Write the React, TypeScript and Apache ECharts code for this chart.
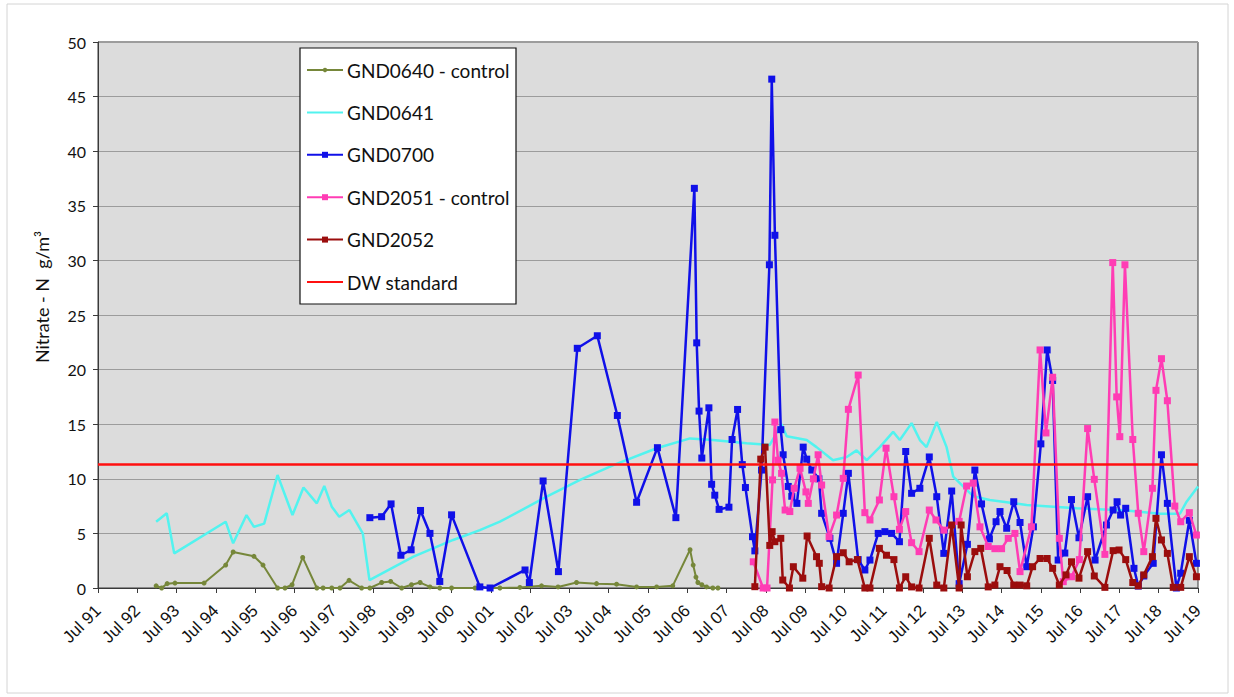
import React, { useEffect, useRef } from "react";
import * as echarts from "echarts";

const X_TICK_LABELS = [
  "Jul 91", "Jul 92", "Jul 93", "Jul 94", "Jul 95", "Jul 96", "Jul 97", "Jul 98", "Jul 99", "Jul 00",
  "Jul 01", "Jul 02", "Jul 03", "Jul 04", "Jul 05", "Jul 06", "Jul 07", "Jul 08", "Jul 09", "Jul 10",
  "Jul 11", "Jul 12", "Jul 13", "Jul 14", "Jul 15", "Jul 16", "Jul 17", "Jul 18", "Jul 19",
];
const X_START_YEAR = 1991.5; // Jul 91
const DW_STANDARD = 11.3;
const Y_AXIS_TITLE = "Nitrate - N  g/m³";

const GND0640 = [
  [1992.98, 0.2], [1993.12, 0], [1993.26, 0.4], [1993.46, 0.45], [1994.2, 0.45], [1994.75, 2.1],
  [1994.94, 3.3], [1995.47, 2.9], [1995.7, 2.1], [1996.07, 0], [1996.26, 0], [1996.44, 0.3],
  [1996.71, 2.8], [1997.07, 0], [1997.23, 0], [1997.45, 0], [1997.66, 0], [1997.89, 0.7],
  [1998.21, 0], [1998.42, 0], [1998.72, 0.5], [1998.95, 0.6], [1999.23, 0], [1999.48, 0.3],
  [1999.7, 0.5], [1999.95, 0.1], [2000.2, 0], [2000.5, 0], [2001.1, 0], [2001.73, 0],
  [2002.24, 0.05], [2002.79, 0.2], [2003.21, 0.1], [2003.68, 0.5], [2004.19, 0.4], [2004.7, 0.35],
  [2005.21, 0.1], [2005.72, 0.1], [2006.13, 0.2], [2006.57, 3.5], [2006.65, 2.1], [2006.72, 1.0],
  [2006.77, 0.5], [2006.87, 0.3], [2006.99, 0.1], [2007.15, 0], [2007.28, 0],
];

const GND0641 = [
  [1992.98, 6.07], [1993.25, 6.84], [1993.44, 3.17], [1994.75, 6.07], [1994.94, 4.09], [1995.28, 6.68],
  [1995.47, 5.6], [1995.73, 5.9], [1996.07, 10.35], [1996.45, 6.68], [1996.73, 9.2], [1997.07, 7.75],
  [1997.26, 9.34], [1997.45, 7.45], [1997.64, 6.53], [1997.9, 7.14], [1998.24, 5.0], [1998.41, 0.73],
  [1999.53, 2.87], [2000.54, 4.4], [2001.22, 5.3], [2001.73, 6.07], [2002.92, 8.36], [2003.77, 9.9],
  [2004.62, 11.26], [2005.72, 12.8], [2006.57, 13.7], [2007.15, 13.55], [2008.01, 13.25], [2008.6, 13.1],
  [2008.9, 15.0], [2009.03, 13.9], [2009.54, 13.55], [2009.79, 12.9], [2010.21, 11.7], [2010.56, 12.0],
  [2010.81, 12.6], [2011.07, 11.7], [2011.4, 12.9], [2011.74, 14.3], [2011.91, 13.55], [2012.21, 15.1],
  [2012.42, 13.55], [2012.59, 12.9], [2012.85, 15.2], [2013.1, 12.9], [2013.27, 10.2], [2013.78, 8.4],
  [2014.2, 8.06], [2015.14, 7.6], [2016.41, 7.3], [2017.68, 7.1], [2018.53, 6.8], [2019.04, 6.8],
  [2019.21, 7.9], [2019.5, 9.3],
];

const GND0700 = [
  [1998.42, 6.44], [1998.72, 6.53], [1998.96, 7.7], [1999.21, 3.0], [1999.47, 3.5], [1999.71, 7.1],
  [1999.95, 5.0], [2000.2, 0.6], [2000.5, 6.7], [2001.22, 0.1], [2001.48, 0], [2002.37, 1.65],
  [2002.48, 0.5], [2002.83, 9.8], [2003.22, 1.5], [2003.7, 21.95], [2004.21, 23.1], [2004.72, 15.8],
  [2005.21, 7.85], [2005.74, 12.85], [2006.21, 6.44], [2006.68, 36.6], [2006.74, 22.45], [2006.8, 16.2],
  [2006.87, 11.9], [2007.05, 16.5], [2007.12, 9.5], [2007.2, 8.5], [2007.31, 7.2], [2007.56, 7.4],
  [2007.64, 13.6], [2007.78, 16.35], [2007.9, 11.3], [2007.98, 9.2], [2008.16, 4.7], [2008.22, 3.4],
  [2008.39, 10.8], [2008.59, 29.6], [2008.65, 46.6], [2008.73, 32.3], [2008.88, 14.5], [2008.94, 12.2],
  [2009.07, 9.3], [2009.16, 8.4], [2009.29, 7.75], [2009.45, 12.9], [2009.54, 11.8], [2009.67, 10.8],
  [2009.85, 10.0], [2009.92, 6.84], [2010.13, 4.55], [2010.3, 2.26], [2010.47, 6.84], [2010.6, 10.5],
  [2010.85, 2.6], [2011.02, 1.65], [2011.15, 2.56], [2011.36, 5.0], [2011.53, 5.16], [2011.7, 5.0],
  [2011.9, 4.24], [2012.06, 12.5], [2012.21, 8.67], [2012.42, 9.13], [2012.66, 12.0], [2012.85, 8.36],
  [2013.03, 3.17], [2013.23, 8.88], [2013.42, 0.4], [2013.63, 4.0], [2013.82, 10.8], [2013.99, 7.7],
  [2014.19, 4.5], [2014.36, 6.07], [2014.46, 7.0], [2014.63, 5.47], [2014.81, 7.9], [2014.97, 6.0],
  [2015.14, 1.95], [2015.31, 5.6], [2015.5, 13.2], [2015.66, 21.8], [2015.8, 19.0], [2015.94, 2.56],
  [2016.11, 3.2], [2016.28, 8.1], [2016.47, 4.6], [2016.69, 8.36], [2016.88, 2.56], [2017.17, 5.77],
  [2017.34, 7.14], [2017.44, 7.9], [2017.53, 6.68], [2017.66, 7.3], [2017.87, 1.8], [2017.98, 0.18],
  [2018.12, 1.1], [2018.36, 2.26], [2018.57, 12.2], [2018.72, 7.75], [2018.95, 0], [2019.06, 1.35],
  [2019.28, 6.2], [2019.46, 2.26],
];

const GND2051 = [
  [2008.18, 2.4], [2008.43, 0], [2008.53, 0], [2008.67, 9.9], [2008.73, 15.2], [2008.81, 11.7],
  [2008.9, 10.5], [2008.99, 7.14], [2009.11, 7.0], [2009.22, 9.13], [2009.37, 10.96], [2009.52, 8.8],
  [2009.58, 7.75], [2009.71, 10.0], [2009.83, 12.2], [2009.92, 9.43], [2010.11, 4.7], [2010.3, 6.68],
  [2010.47, 10.04], [2010.6, 16.36], [2010.85, 19.5], [2011.02, 6.9], [2011.15, 6.23], [2011.39, 8.06],
  [2011.56, 12.8], [2011.76, 8.36], [2011.9, 5.37], [2012.06, 7.0], [2012.21, 4.15], [2012.4, 3.33],
  [2012.66, 7.14], [2012.83, 6.23], [2013.03, 5.3], [2013.42, 6.1], [2013.61, 9.34], [2013.78, 9.6],
  [2013.95, 5.6], [2014.16, 3.8], [2014.33, 3.6], [2014.5, 3.6], [2014.67, 4.55], [2014.84, 5.0],
  [2014.97, 1.5], [2015.26, 5.6], [2015.48, 21.8], [2015.63, 14.2], [2015.8, 19.3], [2015.97, 4.55],
  [2016.07, 0.58], [2016.28, 1.03], [2016.48, 2.6], [2016.69, 14.6], [2016.86, 9.95], [2017.13, 3.08],
  [2017.33, 29.8], [2017.43, 17.5], [2017.51, 13.86], [2017.64, 29.6], [2017.84, 13.6], [2017.98, 6.84],
  [2018.12, 3.33], [2018.34, 9.13], [2018.43, 18.1], [2018.57, 21.0], [2018.72, 17.15], [2018.91, 7.5],
  [2019.06, 6.07], [2019.28, 6.9], [2019.46, 4.85],
];

const GND2052 = [
  [2008.22, 0.12], [2008.37, 11.8], [2008.48, 12.9], [2008.6, 3.9], [2008.66, 5.16], [2008.73, 4.24],
  [2008.88, 4.55], [2008.93, 0.73], [2009.1, 0], [2009.2, 1.95], [2009.44, 0.9], [2009.55, 4.76],
  [2009.79, 2.87], [2009.86, 2.26], [2009.92, 0.12], [2010.11, 0], [2010.3, 2.87], [2010.47, 3.23],
  [2010.62, 2.4], [2010.83, 2.6], [2011.02, 0], [2011.15, 0], [2011.39, 3.63], [2011.57, 3.0],
  [2011.76, 2.6], [2011.9, 0], [2012.06, 1.03], [2012.21, 0.1], [2012.4, 0], [2012.66, 4.55],
  [2012.85, 0.27], [2013.03, 0], [2013.23, 5.77], [2013.42, 0], [2013.47, 5.77], [2013.63, 1.03],
  [2013.82, 3.33], [2013.97, 3.63], [2014.16, 0.1], [2014.33, 0.27], [2014.46, 1.95], [2014.64, 1.6],
  [2014.81, 0.27], [2014.97, 0.27], [2015.14, 0.2], [2015.29, 1.95], [2015.48, 2.7], [2015.66, 2.7],
  [2015.8, 1.8], [2015.97, 0.27], [2016.14, 1.2], [2016.28, 2.4], [2016.47, 0.9], [2016.69, 3.33],
  [2016.86, 1.1], [2017.13, 0.06], [2017.34, 3.42], [2017.49, 3.48], [2017.66, 2.6], [2017.84, 0.5],
  [2017.98, 0.2], [2018.12, 1.2], [2018.34, 2.87], [2018.43, 6.38], [2018.57, 4.4], [2018.72, 3.17],
  [2018.87, 0.06], [2019.06, 0.06], [2019.28, 2.87], [2019.46, 1.03],
];

const SERIES_NAMES = ["GND0640 - control", "GND0641", "GND0700", "GND2051 - control", "GND2052", "DW standard"];

const toAxis = (pts: number[][]) => pts.map(([t, v]) => [t - X_START_YEAR, v]);

export default function App() {
  const ref = useRef<HTMLDivElement>(null);
  useEffect(() => {
    if (!ref.current) return;
    const chart = echarts.init(ref.current, null, { renderer: "svg" });
    const lastX = X_TICK_LABELS.length - 1;
    const labelFont = "Lato, 'Open Sans', sans-serif";

    const styles = [
      { color: "#76873a", marker: "circle", size: 5, width: 2 },
      { color: "#52f3ef", marker: "none", size: 0, width: 2.5 },
      { color: "#1010e8", marker: "rect", size: 7, width: 2.5 },
      { color: "#ff3cb4", marker: "rect", size: 7, width: 2.5 },
      { color: "#9b0d0d", marker: "rect", size: 7, width: 2.5 },
      { color: "#ff1010", marker: "none", size: 0, width: 2.5 },
    ];
    const dataSets = [
      toAxis(GND0640),
      toAxis(GND0641),
      toAxis(GND0700),
      toAxis(GND2051),
      toAxis(GND2052),
      [
        [0, DW_STANDARD],
        [lastX, DW_STANDARD],
      ],
    ];

    const legendEls: any[] = [
      {
        type: "rect",
        z: 50,
        shape: { x: 300, y: 48, width: 216, height: 256 },
        style: { fill: "#ffffff", stroke: "#111111", lineWidth: 1.2 },
      },
    ];
    SERIES_NAMES.forEach((name, i) => {
      const cy = 70 + i * 42.4;
      const s = styles[i];
      legendEls.push({
        type: "line",
        z: 51,
        shape: { x1: 307, y1: cy, x2: 343, y2: cy },
        style: { stroke: s.color, lineWidth: 2 },
      });
      if (s.marker === "rect") {
        legendEls.push({
          type: "rect",
          z: 52,
          shape: { x: 325 - 3, y: cy - 3, width: 6, height: 6 },
          style: { fill: s.color },
        });
      } else if (s.marker === "circle") {
        legendEls.push({
          type: "circle",
          z: 52,
          shape: { cx: 325, cy, r: 2.2 },
          style: { fill: s.color },
        });
      }
      legendEls.push({
        type: "text",
        z: 52,
        x: 347,
        y: cy,
        style: {
          text: name,
          fill: "#111",
          font: "19px Lato, 'Open Sans', sans-serif",
          verticalAlign: "middle",
          textVerticalAlign: "middle",
        },
      });
    });

    chart.setOption({
      animation: false,
      backgroundColor: "#ffffff",
      grid: {
        left: 98,
        top: 42,
        width: 1100,
        height: 546,
        show: true,
        backgroundColor: "#dcdcdc",
        borderColor: "#3a3a3a",
        borderWidth: 1,
      },
      graphic: [
        {
          type: "rect",
          z: -1,
          shape: { x: 7, y: 4, width: 1221, height: 689 },
          style: { fill: "none", stroke: "#d4d4d4", lineWidth: 1 },
        },
        {
          type: "text",
          z: 10,
          x: 42,
          y: 297,
          rotation: Math.PI / 2,
          style: {
            text: Y_AXIS_TITLE,
            fill: "#111",
            font: "18px Lato, 'Open Sans', sans-serif",
            align: "center",
            verticalAlign: "middle",
            textAlign: "center",
            textVerticalAlign: "middle",
          },
        },
        ...legendEls,
      ],
      xAxis: {
        type: "value",
        min: 0,
        max: lastX,
        interval: 1,
        axisLine: { show: true, lineStyle: { color: "#3a3a3a", width: 1 } },
        axisTick: { show: true, length: 5, lineStyle: { color: "#3a3a3a" } },
        splitLine: { show: false },
        axisLabel: {
          rotate: 45,
          margin: 20,
          fontFamily: "'Liberation Sans', Arial, sans-serif",
          fontSize: 17,
          color: "#111",
          formatter: (v: number) => X_TICK_LABELS[Math.round(v)] ?? "",
        },
      },
      yAxis: {
        type: "value",
        min: 0,
        max: 50,
        interval: 5,
        axisLine: { show: true, lineStyle: { color: "#3a3a3a", width: 1 } },
        axisTick: { show: true, length: 5, lineStyle: { color: "#3a3a3a" } },
        splitLine: { show: true, lineStyle: { color: "#9c9c9c", width: 1 } },
        axisLabel: { margin: 12, fontFamily: labelFont, fontSize: 16, color: "#111" },
      },
      series: SERIES_NAMES.map((name, i) => ({
        name,
        type: "line",
        data: dataSets[i],
        symbol: styles[i].marker,
        symbolSize: styles[i].size,
        showSymbol: styles[i].marker !== "none",
        itemStyle: { color: styles[i].color },
        lineStyle: { color: styles[i].color, width: styles[i].width },
        z: 2 + i,
      })),
    });
    return () => chart.dispose();
  }, []);
  return (
    <div
      ref={ref}
      style={{ position: "fixed", left: 0, top: 0, width: 1234, height: 697, background: "#fff" }}
    />
  );
}
